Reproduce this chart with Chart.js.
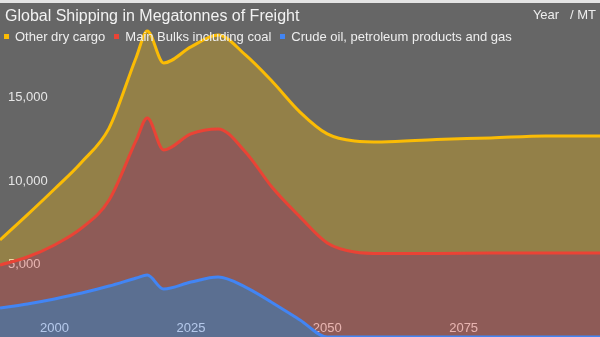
<!DOCTYPE html>
<html>
<head>
<meta charset="utf-8">
<script src="https://cdn.jsdelivr.net/npm/chart.js@4"></script>
<style>
  body { margin: 0; background: #e4e4e4; }
  #wrap { position: relative; width: 600px; height: 337px; background: #e4e4e4; overflow: hidden; }
  #c { position: absolute; top: 3px; left: 0; background: #666666; }
  .txt { position: absolute; font-family: Arial, "Liberation Sans", sans-serif; white-space: pre; }
  #title { left: 5px; top: 8px; font-size: 16px; line-height: 16px; color: #f2f2f2; }
  #units { right: 4px; top: 8px; font-size: 13px; line-height: 13px; color: #eeeeee; }
  #legend { left: 4px; top: 30px; font-size: 13px; line-height: 13px; color: #eeeeee; }
  .item { display: inline-block; margin-right: 9px; }
  .sw { display: inline-block; width: 5px; height: 5px; margin-right: 6px; vertical-align: 2px; }
</style>
</head>
<body>
<div id="wrap">
  <canvas id="c" width="600" height="334"></canvas>
  <div id="title" class="txt">Global Shipping in Megatonnes of Freight</div>
  <div id="units" class="txt">Year   / MT</div>
  <div id="legend" class="txt"></div>
</div>
<script>
// years and megatonnes per category (stacked: crude at the bottom)
var years = [1990, 1995, 2000, 2005, 2010, 2015, 2017, 2020, 2025, 2030, 2035, 2040, 2045, 2050, 2055, 2060, 2070, 2080, 2090, 2100];
var crudeOil = [1740, 1980, 2280, 2630, 3050, 3530, 3710, 2870, 3290, 3590, 2990, 2040, 1020, 0, 0, 0, 0, 0, 0, 0];
var mainBulks = [2570, 2810, 3230, 3900, 5150, 8270, 9400, 8330, 8870, 8870, 8090, 6880, 6170, 5630, 5090, 5000, 5000, 5030, 5030, 5030];
var otherDry = [1500, 2520, 3350, 3950, 4310, 4970, 5210, 5210, 5210, 5620, 5810, 6350, 6280, 6530, 6650, 6680, 6830, 6890, 7010, 7010];

var seriesNames = ['Crude oil, petroleum products and gas', 'Main Bulks including coal', 'Other dry cargo'];
var seriesColors = ['#4285f4', '#ea4335', '#fbbc04'];
var fillColors = ['rgba(66,133,244,0.3)', 'rgba(234,67,53,0.3)', 'rgba(251,188,4,0.3)'];

var xTicks = [2000, 2025, 2050, 2075];
var yTicks = [5000, 10000, 15000];

function points(vals) {
    return years.map(function (y, i) { return { x: y, y: vals[i] }; });
}

var allSeries = [crudeOil, mainBulks, otherDry];
var datasets = allSeries.map(function (vals, i) {
    return {
        label: seriesNames[i],
        data: points(vals),
        borderColor: seriesColors[i],
        backgroundColor: fillColors[i],
        borderWidth: 3,
        pointRadius: 0,
        fill: i === 0 ? 'origin' : '-1',
        cubicInterpolationMode: 'monotone'
    };
});

// legend, same order as the original
var legend = document.getElementById('legend');
for (var i = seriesNames.length - 1; i >= 0; i--) {
    var item = document.createElement('span');
    item.className = 'item';
    item.innerHTML = '<span class="sw" style="background:' + seriesColors[i] + '"></span>' + seriesNames[i];
    legend.appendChild(item);
}

// the plot fills the whole canvas, labels sit inside it
function noPadding(scale) {
    scale.paddingLeft = 0;
    scale.paddingRight = 0;
    scale.paddingTop = 0;
    scale.paddingBottom = 0;
    if (scale.axis === 'y') scale.width = 0;
}

Chart.defaults.font.family = 'Arial, "Liberation Sans", sans-serif';

var ctx = document.getElementById('c').getContext('2d');
new Chart(ctx, {
    type: 'line',
    data: { datasets: datasets },
    options: {
        responsive: false,
        animation: false,
        layout: { padding: 0 },
        plugins: { legend: { display: false }, title: { display: false }, tooltip: { enabled: false } },
        scales: {
            x: {
                type: 'linear',
                min: 1990,
                max: 2100,
                position: { y: 0 },
                grid: { display: false, drawTicks: false },
                border: { display: false },
                afterBuildTicks: function (scale) {
                    scale.ticks = xTicks.map(function (v) { return { value: v }; });
                },
                afterFit: noPadding,
                ticks: {
                    color: '#e6e6e6',
                    font: { size: 13 },
                    padding: -16,
                    maxRotation: 0,
                    autoSkip: false,
                    callback: function (v) { return String(v); }
                }
            },
            y: {
                stacked: true,
                min: 0,
                max: 20000,
                grid: { display: false, drawTicks: false },
                border: { display: false },
                afterBuildTicks: function (scale) {
                    scale.ticks = yTicks.map(function (v) { return { value: v }; });
                },
                afterFit: noPadding,
                ticks: {
                    mirror: true,
                    padding: 8,
                    labelOffset: 11,
                    color: '#e6e6e6',
                    font: { size: 13 },
                    callback: function (v) { return v.toLocaleString('en-US'); }
                }
            }
        }
    }
});
</script>
</body>
</html>
